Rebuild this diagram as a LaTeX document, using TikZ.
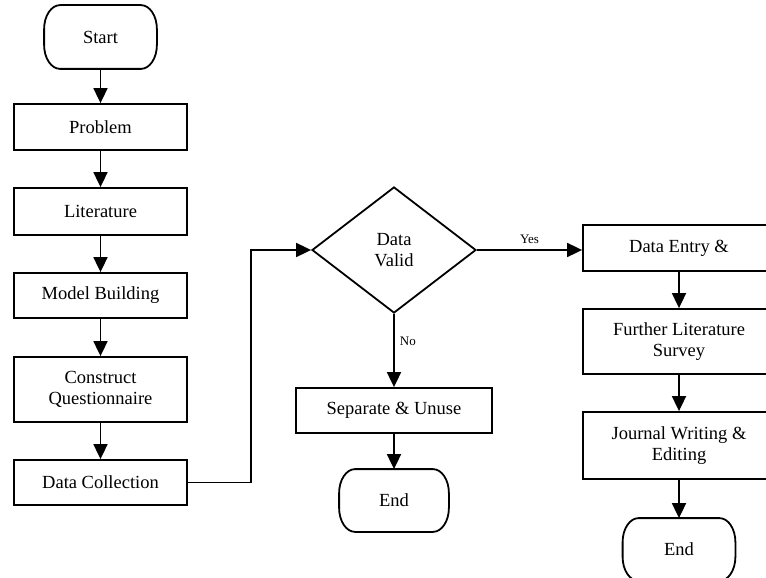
\documentclass[tikz,border=0pt]{standalone}
\usepackage{fontspec}
\setmainfont{Liberation Serif}
\usetikzlibrary{shapes.geometric,arrows.meta}
\tikzset{
  base/.style={draw=black, line width=1.8pt, align=center, inner sep=0pt,
    font=\fontsize{18.5}{21.5}\selectfont},
  procbox/.style={base, rectangle, minimum width=#1},
  termbox/.style={base, rectangle, draw=none},
  termline/.style={line width=1.8pt},
  decbox/.style={base, diamond, minimum width=164pt, minimum height=126pt},
  arr/.style={line width=1.8pt, -{Triangle[length=15pt,width=14pt]}},
  lbl/.style={font=\fontsize{13}{15}\selectfont, inner sep=0pt}
}
\newcommand\termoutline[1]{%
  \draw[termline] ([xshift=16pt]#1.north west) -- ([xshift=-16pt]#1.north east)
    arc[start angle=90,end angle=0,x radius=16pt,y radius=24pt]
    -- ([yshift=24pt]#1.south east)
    arc[start angle=0,end angle=-90,x radius=16pt,y radius=24pt]
    -- ([xshift=16pt]#1.south west)
    arc[start angle=-90,end angle=-180,x radius=16pt,y radius=24pt]
    -- ([yshift=-24pt]#1.north west)
    arc[start angle=180,end angle=90,x radius=16pt,y radius=24pt] -- cycle;}
\begin{document}
\begin{tikzpicture}[x=1pt,y=-1pt]
\useasboundingbox (0,0) rectangle (766,578);
\clip (0,0) rectangle (766,578);
% left column
\node[termbox, minimum width=111pt, minimum height=62pt] (st) at (100.5,37) {Start};
\node[procbox=173pt, minimum height=46pt] (pr) at (100.5,127) {Problem};
\node[procbox=173pt, minimum height=47pt] (li) at (100.5,211.5) {Literature};
\node[procbox=173pt, minimum height=45pt] (mb) at (100.5,295.5) {Model Building};
\node[procbox=173pt, minimum height=65pt] (cq) at (100.5,389.5) {Construct\\Questionnaire};
\node[procbox=173pt, minimum height=45pt] (dc) at (100.5,482.5) {Data Collection};
% middle
\node[decbox] (dv) at (394,250) {Data\\Valid};
\node[procbox=196pt, minimum height=45pt] (su) at (394,410.5) {Separate \& Unuse};
\node[termbox, minimum width=108pt, minimum height=61pt] (e1) at (394,500.5) {End};
% right column
\node[procbox=192pt, minimum height=46pt] (de) at (679,248) {Data Entry \&};
\node[procbox=192pt, minimum height=65pt] (fl) at (679,341.5) {Further Literature\\Survey};
\node[procbox=192pt, minimum height=67pt] (jw) at (679,445.5) {Journal Writing \&\\Editing};
\node[termbox, minimum width=111pt, minimum height=61pt] (e2) at (679,549.5) {End};
\termoutline{st}
\termoutline{e1}
\termoutline{e2}
% connectors
\draw[arr] (st.south) -- (pr.north);
\draw[arr] (pr.south) -- (li.north);
\draw[arr] (li.south) -- (mb.north);
\draw[arr] (mb.south) -- (cq.north);
\draw[arr] (cq.south) -- (dc.north);
\draw[arr] (dc.east) -- ++(63,0) |- (dv.west);
\draw[arr] (dv.east) -- node[lbl, above=5pt] (yes) {Yes} (dv.east -| de.west);
\draw[arr] (dv.south) -- node[lbl, right=5pt, pos=0.37] (no) {No} (su.north);
\draw[arr] (su.south) -- (e1.north);
\draw[arr] (de.south) -- (fl.north);
\draw[arr] (fl.south) -- (jw.north);
\draw[arr] (jw.south) -- (e2.north);
\end{tikzpicture}
\end{document}
